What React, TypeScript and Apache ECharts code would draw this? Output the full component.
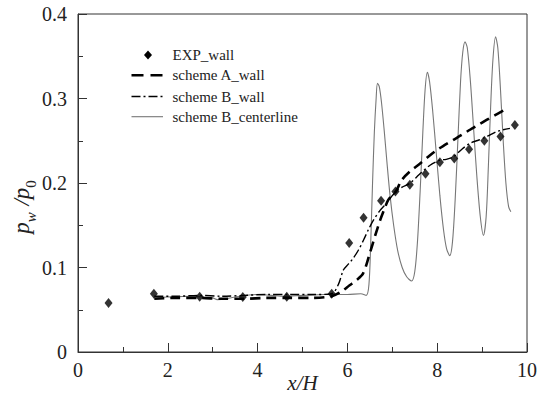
import React, { useEffect, useRef } from "react";
import * as echarts from "echarts";

const expX = [0.68, 1.69, 2.71, 3.67, 4.65, 5.65, 6.04, 6.36, 6.75, 7.07, 7.39, 7.74, 8.06, 8.38, 8.71, 9.05, 9.41, 9.73];
const expY = [0.058, 0.069, 0.0655, 0.065, 0.0655, 0.069, 0.129, 0.159, 0.179, 0.19, 0.198, 0.211, 0.2245, 0.229, 0.24, 0.25, 0.255, 0.2686];

const aX = [1.7, 2.2, 2.7, 3.2, 3.7, 4.2, 4.7, 5.2, 5.65, 5.85, 6.05, 6.2, 6.35, 6.5, 6.62, 6.73, 6.83, 6.91, 7.0, 7.08, 7.21, 7.4, 7.62, 7.8, 7.99, 8.17, 8.36, 8.55, 8.73, 8.92, 9.1, 9.28, 9.47];
const aY = [0.063, 0.064, 0.064, 0.063, 0.063, 0.064, 0.064, 0.064, 0.066, 0.071, 0.079, 0.085, 0.093, 0.117, 0.138, 0.156, 0.17, 0.18, 0.186, 0.19, 0.2035, 0.214, 0.223, 0.231, 0.239, 0.245, 0.251, 0.257, 0.263, 0.269, 0.2746, 0.28, 0.2856];

const bX = [1.7, 2.2, 2.7, 3.2, 3.7, 4.2, 4.7, 5.2, 5.65, 5.8, 5.91, 6.02, 6.13, 6.25, 6.36, 6.47, 6.58, 6.72, 6.87, 6.97, 7.08, 7.22, 7.39, 7.6, 7.84, 8.06, 8.2, 8.36, 8.55, 8.73, 8.88, 9.03, 9.18, 9.32, 9.47, 9.62];
const bY = [0.066, 0.066, 0.067, 0.066, 0.067, 0.068, 0.068, 0.068, 0.069, 0.08, 0.097, 0.104, 0.111, 0.121, 0.1325, 0.145, 0.156, 0.167, 0.176, 0.183, 0.19, 0.195, 0.1996, 0.21, 0.221, 0.227, 0.228, 0.231, 0.24, 0.247, 0.25, 0.253, 0.257, 0.2607, 0.263, 0.2647];

const cX = [1.7, 2.0, 2.5, 3.0, 3.1, 3.3, 3.6, 4.0, 4.3, 4.6, 5.0, 5.5, 6.0, 6.3, 6.42, 6.48, 6.52, 6.56, 6.6, 6.64, 6.67, 6.71, 6.76, 6.82, 6.88, 6.95, 7.03, 7.12, 7.22, 7.32, 7.43, 7.5, 7.56, 7.62, 7.68, 7.73, 7.78, 7.83, 7.9, 7.98, 8.06, 8.14, 8.21, 8.28, 8.34, 8.4, 8.46, 8.52, 8.57, 8.62, 8.67, 8.74, 8.81, 8.88, 8.96, 9.03, 9.09, 9.14, 9.19, 9.24, 9.3, 9.35, 9.41, 9.47, 9.53, 9.59, 9.64];
const cY = [0.064, 0.065, 0.066, 0.064, 0.062, 0.063, 0.066, 0.068, 0.067, 0.066, 0.067, 0.068, 0.068, 0.069, 0.067, 0.08, 0.13, 0.2, 0.26, 0.3, 0.318, 0.314, 0.295, 0.262, 0.225, 0.185, 0.15, 0.12, 0.1, 0.089, 0.084, 0.095, 0.13, 0.19, 0.26, 0.31, 0.331, 0.32, 0.285, 0.235, 0.185, 0.145, 0.122, 0.114, 0.13, 0.18, 0.25, 0.32, 0.355, 0.367, 0.36, 0.32, 0.265, 0.21, 0.16, 0.138, 0.16, 0.22, 0.29, 0.345, 0.373, 0.36, 0.31, 0.25, 0.2, 0.172, 0.166];

const seriesNames = ["EXP_wall", "scheme A_wall", "scheme B_wall", "scheme B_centerline"];

const zip = (xs: number[], ys: number[]) => xs.map((x, i) => [x, ys[i]]);

const FONT = "Liberation Serif";
const TXT = "#222";

export default function App() {
  const ref = useRef<HTMLDivElement>(null);
  useEffect(() => {
    const chart = echarts.init(ref.current!, null, { renderer: "svg" });
    const lx1 = 131.5, lx2 = 163, tx = 172.5;
    const rows = [55, 75.3, 96.5, 116.7];
    chart.setOption({
      animation: false,
      backgroundColor: "#fff",
      textStyle: { fontFamily: FONT },
      grid: {
        left: 78, right: 11, top: 14, bottom: 43,
        outerBoundsMode: "none", containLabel: false,
        show: true, borderColor: "#333", borderWidth: 1,
      },
      graphic: [
        {
          type: "polygon",
          shape: { points: [[148, rows[0] - 4.5], [152, rows[0]], [148, rows[0] + 4.5], [144, rows[0]]] },
          style: { fill: "#000" },
        },
        { type: "line", shape: { x1: lx1, y1: rows[1], x2: lx2, y2: rows[1] }, style: { stroke: "#000", lineWidth: 2.6, lineDash: [12, 7] } },
        { type: "line", shape: { x1: lx1, y1: rows[2], x2: lx2, y2: rows[2] }, style: { stroke: "#000", lineWidth: 1.4, lineDash: [9, 3, 2, 3] } },
        { type: "line", shape: { x1: lx1, y1: rows[3], x2: lx2, y2: rows[3] }, style: { stroke: "#777", lineWidth: 1.1 } },
        ...seriesNames.map((n, i) => ({
          type: "text",
          x: tx,
          y: rows[i],
          style: { text: n, fontFamily: FONT, fontSize: 15, fill: TXT, verticalAlign: "middle", align: "left" },
        })),
        {
          type: "text",
          x: 21,
          y: 207,
          rotation: Math.PI / 2,
          style: {
            text: "{i|p}{sw|w}{n| /}{i|p}{s0|0}",
            align: "center",
            verticalAlign: "middle",
            fill: TXT,
            rich: {
              i: { fontFamily: FONT, fontSize: 23, fontStyle: "italic", fill: TXT },
              n: { fontFamily: FONT, fontSize: 23, fontStyle: "italic", fill: TXT },
              sw: { fontFamily: FONT, fontSize: 15, fontStyle: "italic", fill: TXT, verticalAlign: "bottom", padding: [0, 1, -6, 0] },
              s0: { fontFamily: FONT, fontSize: 15, fill: TXT, verticalAlign: "bottom", padding: [0, 0, -6, 0] },
            },
          },
        },
      ],
      xAxis: {
        type: "value",
        min: 0,
        max: 10,
        interval: 2,
        name: "x/H",
        nameLocation: "middle",
        nameGap: 20,
        nameMoveOverlap: false,
        nameTextStyle: { fontFamily: FONT, fontSize: 21, fontStyle: "italic", color: TXT },
        axisLine: { lineStyle: { color: "#333", width: 1 } },
        axisTick: { inside: true, length: 9, lineStyle: { color: "#333" } },
        minorTick: { show: true, splitNumber: 2, length: 5, lineStyle: { color: "#333" } },
        axisLabel: { fontFamily: FONT, fontSize: 20, color: TXT, margin: 8 },
        splitLine: { show: false },
      },
      yAxis: {
        type: "value",
        min: 0,
        max: 0.4,
        interval: 0.1,
        axisLine: { lineStyle: { color: "#333", width: 1 } },
        axisTick: { inside: true, length: 9, lineStyle: { color: "#333" } },
        minorTick: { show: true, splitNumber: 2, length: 5, lineStyle: { color: "#333" } },
        axisLabel: { fontFamily: FONT, fontSize: 20, color: TXT, margin: 11, formatter: (v: number) => (v === 0 ? "0" : String(Number(v.toFixed(1)))) },
        splitLine: { show: false },
      },
      series: [
        {
          name: seriesNames[3],
          type: "line",
          data: zip(cX, cY),
          symbol: "none",
          smooth: 0.3,
          lineStyle: { color: "#777", width: 1.1, type: "solid" },
          z: 2,
        },
        {
          name: seriesNames[1],
          type: "line",
          data: zip(aX, aY),
          symbol: "none",
          smooth: 0.3,
          lineStyle: { color: "#000", width: 2.6, type: [10, 6] },
          z: 3,
        },
        {
          name: seriesNames[2],
          type: "line",
          data: zip(bX, bY),
          symbol: "none",
          smooth: 0.3,
          lineStyle: { color: "#000", width: 1.4, type: [9, 3, 2, 3] },
          z: 3,
        },
        {
          name: seriesNames[0],
          type: "scatter",
          data: zip(expX, expY),
          symbol: "diamond",
          symbolSize: [8, 10],
          itemStyle: { color: "#000" },
          z: 4,
        },
      ],
    });
    return () => chart.dispose();
  }, []);
  return <div ref={ref} style={{ width: 538, height: 395, position: "absolute", left: 0, top: 0 }} />;
}
